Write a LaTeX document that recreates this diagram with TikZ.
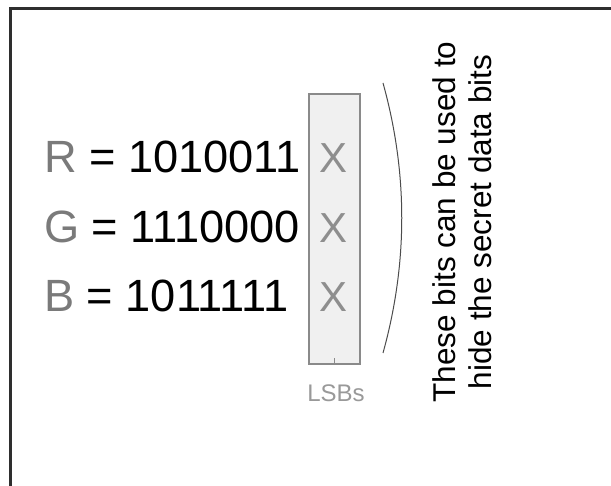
\documentclass[tikz,border=0pt]{standalone}
\usepackage{fontspec}
\setmainfont{Liberation Sans}
\usepackage{tikz}
\usetikzlibrary{positioning}
\definecolor{chan}{HTML}{7A7A7A}
\definecolor{boxedge}{HTML}{8A8A8A}
\definecolor{boxfill}{HTML}{F0F0F0}
\tikzset{
  bits/.style={anchor=base west, inner sep=0pt, font=\fontsize{45.2}{50}\selectfont},
  lsbbox/.style={draw=boxedge, fill=boxfill, line width=1.2pt, inner sep=0pt},
  cross/.style={anchor=base, inner sep=0pt, text=chan!85, font=\fontsize{42}{48}\selectfont},
  note/.style={rotate=90, align=center, inner sep=0pt, font=\fontsize{31.5}{36}\selectfont},
  tag/.style={inner sep=0pt, text=gray!80, font=\fontsize{24}{28}\selectfont},
}

\begin{document}
\begin{tikzpicture}[x=1pt, y=-1pt]
  \useasboundingbox[fill=white] (0,0) rectangle (611,486);
  % frame on the top and left
  \draw[line width=3pt, black!82] (10,486) -- (10,9) -- (611,9);
  % column holding the least significant bits
  \node[lsbbox, minimum width=51, minimum height=270] (lsb) at (334.5,229) {};
  \coordinate[below=7 of lsb.south] (tick);
  \draw[boxedge, line width=1.2pt] (lsb.south) -- (tick);
  \node[tag, anchor=north] (lsbs) at (336,385) {LSBs};
  % one row per colour channel
  \foreach \c/\v/\y in {R/1010011/173, G/1110000/243, B/1011111/312} {
    \node[bits] (row-\c) at (44,\y) {\textcolor{chan}{\c} = \v};
    \node[cross] (x-\c) at (333.5,\y) {X};
  }
  % bracket and explanation
  \coordinate (brtop) at (383,83);
  \coordinate (brbot) at (383,353);
  \draw[black!70, line width=1pt] (brtop) .. controls (408,173) and (408,263) .. (brbot);
  \node[note] (hint) at (462,222) {These bits can be used to\\hide the secret data bits};
\end{tikzpicture}
\end{document}
